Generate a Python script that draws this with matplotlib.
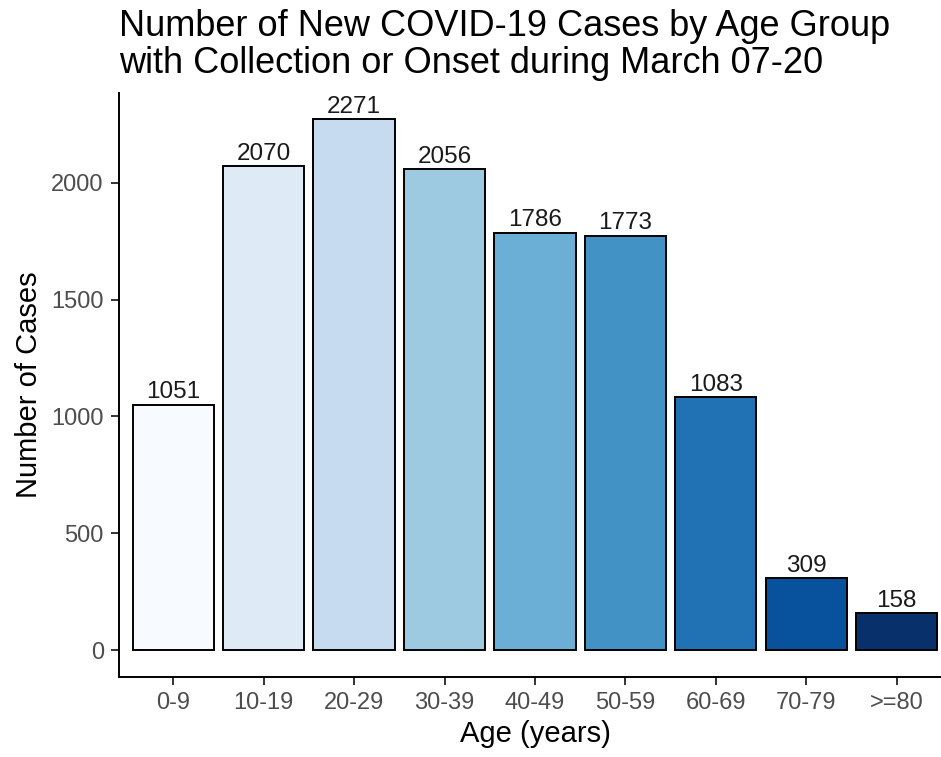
import matplotlib.pyplot as plt

plt.rcParams['font.family'] = ['Liberation Sans', 'DejaVu Sans']

# data
age_groups = ['0-9', '10-19', '20-29', '30-39', '40-49', '50-59', '60-69', '70-79', '>=80']
cases = [1051, 2070, 2271, 2056, 1786, 1773, 1083, 309, 158]
blues = ['#F7FBFF', '#DEEBF7', '#C6DBEF', '#9ECAE1', '#6BAED6',
         '#4292C6', '#2171B5', '#08519C', '#08306B']
y_ticks = [0, 500, 1000, 1500, 2000]

fig = plt.figure(figsize=(9.41, 7.57), dpi=100)
ax = fig.add_axes([0.1265, 0.1057, 0.884, 0.772])

x = list(range(1, len(age_groups) + 1))
ax.bar(x, cases, width=0.9, color=blues, edgecolor='black', linewidth=1.4)

for xi, v in zip(x, cases):
    ax.text(xi, v + 5, str(v), ha='center', va='bottom', fontsize=17.5, color='#1a1a1a')

ymax = max(cases)
ax.set_ylim(-0.05 * ymax, 1.05 * ymax)
ax.set_xlim(0.4, len(age_groups) + 0.6)
ax.set_xticks(x)
ax.set_xticklabels(age_groups)
ax.set_yticks(y_ticks)

for s in ['top', 'right']:
    ax.spines[s].set_visible(False)
for s in ['left', 'bottom']:
    ax.spines[s].set_linewidth(1.4)
    ax.spines[s].set_color('black')

ax.tick_params(axis='both', length=6, width=1.4, color='#333333',
               labelcolor='#4D4D4D', labelsize=17, pad=5)

ax.set_xlabel('Age (years)', fontsize=21, labelpad=4)
ax.set_ylabel('Number of Cases', fontsize=21, labelpad=6)
ax.set_title('Number of New COVID-19 Cases by Age Group\nwith Collection or Onset during March 07-20',
             loc='left', fontsize=26, pad=14, linespacing=1.08)

fig.savefig('out.png', dpi=100)
